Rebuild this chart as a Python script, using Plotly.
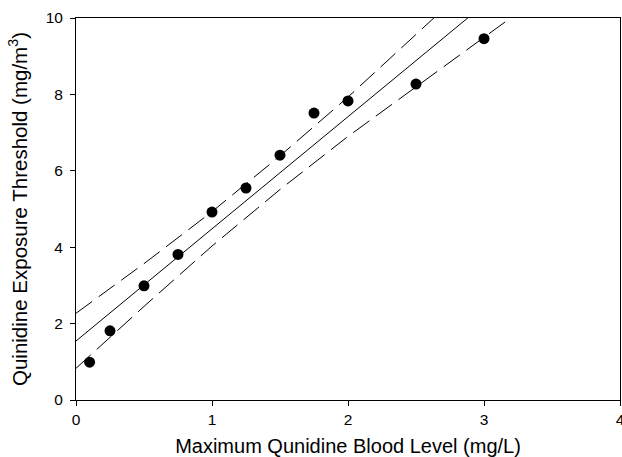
import plotly.graph_objects as go

# Observed data
blood_level = [0.1, 0.25, 0.5, 0.75, 1.0, 1.25, 1.5, 1.75, 2.0, 2.5, 3.0]
threshold = [0.99, 1.81, 2.99, 3.81, 4.92, 5.55, 6.41, 7.51, 7.83, 8.27, 9.46]

# Regression line
fit_x = [0.0, 3.5]
fit_y = [1.545, 11.82]

# Confidence band
band_x = [0.0, 0.5, 1.0, 1.5, 2.0, 2.5, 3.0, 3.5]
band_upper = [2.27, 3.57, 4.93, 6.39, 7.93, 9.55, 11.19, 12.85]
band_lower = [0.83, 2.45, 4.03, 5.51, 6.90, 8.21, 9.51, 10.79]

x_ticks = [0, 1, 2, 3, 4]
y_ticks = [0, 2, 4, 6, 8, 10]

fig = go.Figure()
fig.add_trace(go.Scatter(x=band_x, y=band_upper, mode="lines",
                         line=dict(color="black", width=1, dash="20px,8px"), showlegend=False))
fig.add_trace(go.Scatter(x=band_x, y=band_lower, mode="lines",
                         line=dict(color="black", width=1, dash="20px,8px"), showlegend=False))
fig.add_trace(go.Scatter(x=fit_x, y=fit_y, mode="lines",
                         line=dict(color="black", width=1), showlegend=False))
fig.add_trace(go.Scatter(x=blood_level, y=threshold, mode="markers",
                         marker=dict(color="black", size=11), showlegend=False, cliponaxis=False))

font = "Liberation Sans, Arial, sans-serif"
fig.update_layout(
    width=622, height=457,
    margin=dict(l=76, r=2, t=18, b=57),
    paper_bgcolor="white", plot_bgcolor="white",
    font=dict(family=font, size=15.5, color="black"),
)
fig.update_xaxes(
    range=[0, 4], tickvals=x_ticks, ticks="outside", ticklen=5, tickcolor="black",
    ticklabeloverflow="allow",
    showline=True, linecolor="black", linewidth=1, mirror=True, showgrid=False, zeroline=False,
    title=dict(text="Maximum Qunidine Blood Level (mg/L)", font=dict(size=20), standoff=14),
    automargin=False,
)
fig.update_yaxes(
    range=[0, 10], tickvals=y_ticks, ticks="outside", ticklen=5, tickcolor="black",
    ticklabelstandoff=4,
    showline=True, linecolor="black", linewidth=1, mirror=True, showgrid=False, zeroline=False,
    title=dict(text="Quinidine Exposure Threshold (mg/m<sup>3</sup>)", font=dict(size=20.5), standoff=12),
    automargin=False,
)
fig.write_html(
    "out.html",
    config={"displayModeBar": False},
    post_script="document.body.style.margin='0';document.body.style.overflow='hidden';",
)
